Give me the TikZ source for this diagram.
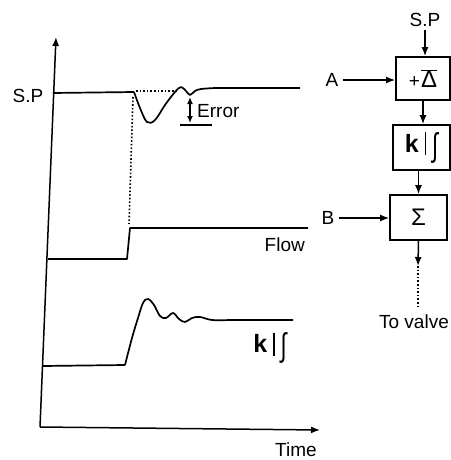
\documentclass[tikz,border=0pt]{standalone}
\usepackage{fontspec}
\setmainfont{Liberation Sans}
\usetikzlibrary{arrows.meta,calc}
\newcommand{\kintsym}{\fontsize{25}{27}\selectfont\textbf{k}\hspace{6pt}\rule[-3pt]{1.4pt}{23pt}\hspace{6pt}\raisebox{-4pt}{\resizebox{6pt}{24pt}{∫}}}
\begin{document}
\begin{tikzpicture}[x=1pt,y=-1pt,
  curve/.style={line width=1.7pt,line join=round},
  arr/.style={line width=1.5pt,-{Latex[length=9pt,width=7pt]}},
  dots/.style={line width=1.6pt,dotted},
  blk/.style={draw,line width=1.7pt,inner sep=0pt},
  lbl/.style={font=\fontsize{19}{21}\selectfont,inner sep=0pt}]
\useasboundingbox (0,0) rectangle (450,460);
% axes
\coordinate (o) at (40,427);
\coordinate (ytop) at (56,37);
\coordinate (xend) at (320,430);
\draw[arr] (o) -- (ytop);
\draw[arr] (o) -- (xend);
\node[lbl] (time) at (296,450) {Time};
\node[lbl] (sp1) at (28,96) {S.P};
% SP curve
\draw[curve] (53,93) -- (134,92) plot[smooth,tension=0.6] coordinates {(134,92) (140,108) (147,122) (155,120) (165,105) (175,92) (181,87) (186,91) (190,95) (195,91) (201,89) (215,88)} -- (300,88);
\draw[dots] (136,91) -- (178,91);
\draw[dots] (133,97) -- (129,224);
% error
\draw[line width=1.4pt,{Latex[length=7pt,width=6pt]}-{Latex[length=7pt,width=6pt]}] (190,97) -- (190,123);
\draw[line width=1.4pt] (180,125) -- (212,125);
\node[lbl,anchor=west] (err) at (197,111) {Error};
% flow
\draw[curve] (48,259) -- (127,259) -- (130,228) -- (308,228);
\node[lbl,anchor=east] (flow) at (305,245) {Flow};
% k|int curve
\draw[curve] (43,366) -- (125,365) plot[smooth,tension=0.6] coordinates {(125,365) (132,338) (138,318) (143,303) (148,299) (154,305) (160,316) (166,318) (173,313) (179,319) (185,322) (192,318) (200,317) (212,320) (230,320)} -- (293,320);
\node[inner sep=0pt] (kint1) at (270,348) {\kintsym};
% block diagram
\node[blk,minimum width=54pt,minimum height=43pt] (b1) at (423,78.5) {\fontsize{19}{21}\selectfont +\hspace{1pt}$\overline{\hbox{\fontsize{24}{26}\selectfont Δ}}$};
\node[blk,minimum width=57pt,minimum height=45pt] (b2) at (421.5,147.5) {\kintsym};
\node[blk,minimum width=57pt,minimum height=45pt] (b3) at (418.5,217.5) {\fontsize{24}{26}\selectfont Σ};
\node[lbl] (sp2) at (425,20) {S.P};
\node[lbl] (a) at (332,80) {A};
\node[lbl] (b) at (328,218) {B};
\node[lbl] (valve) at (414,322) {To valve};
\coordinate (v1) at (418,266);
\coordinate (v2) at (418,307);
\draw[arr] (sp2.south) ++(0,3) coordinate (s2) -- (s2 |- b1.north);
\draw[arr] (a.east) ++(4,0) coordinate (ae) -- (ae -| b1.west);
\draw[arr] (b.east) ++(4,0) coordinate (be) -- (be -| b3.west);
\draw[arr] (b1.south) -- (b1.south |- b2.north);
\draw[arr] ($(b2.south)+(-3,0)$) coordinate (k2) -- (k2 |- b3.north);
\draw[arr] (b3.south) -- (v1);
\draw[dots] (v1) -- (v2);
\end{tikzpicture}
\end{document}
